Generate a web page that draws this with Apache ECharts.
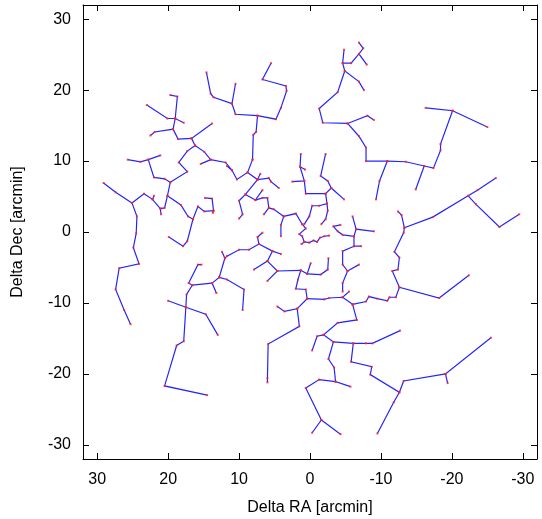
<!DOCTYPE html>
<html>
<head>
<meta charset="utf-8">
<script src="https://cdn.jsdelivr.net/npm/echarts@6/dist/echarts.min.js"></script>
<style>
  html, body { margin: 0; padding: 0; background: #fff; }
  #main { width: 542px; height: 519px; }
</style>
</head>
<body>
<div id="main"></div>
<script>
  // tick labels (arcmin)
  var xTicks = [30, 20, 10, 0, -10, -20, -30];
  var yTicks = [-30, -20, -10, 0, 10, 20, 30];

  // tree branches, each a polyline of [deltaRA, deltaDec] in arcmin
  var upperLeft = [
    [[14.6,22.5],[14.0,19.5],[13.6,19.0],[11.0,18.1]],
    [[10.5,20.9],[11.0,18.1],[10.5,16.6],[7.4,16.4],[4.8,15.9],[4.1,17.5],[3.3,19.9],[3.4,20.6],[6.7,21.5],[5.5,23.8]],
    [[7.4,16.4],[7.6,14.1],[8.0,13.7],[8.1,10.2]],
    [[19.7,19.3],[18.7,19.1],[19.0,16.0]],
    [[23.0,17.9],[20.1,16.0],[19.0,16.0],[17.8,15.4]],
    [[19.0,16.0],[19.3,14.5],[21.9,14.1],[22.5,13.6]],
    [[19.3,14.5],[18.6,13.1],[16.7,13.2],[13.8,15.3]],
    [[16.7,13.2],[16.2,12.2],[17.3,11.4],[18.5,9.8],[17.3,8.5],[19.7,7.0]],
    [[16.2,12.2],[14.9,11.3],[14.0,10.2],[15.4,9.6]],
    [[14.0,10.2],[11.9,9.8],[11.0,8.7],[10.3,7.4],[8.8,8.4],[8.1,10.2]],
    [[11.7,9.3],[11.0,8.7]]
  ];

  var left = [
    [[25.7,10.2],[23.9,9.9],[22.8,10.2],[21.1,10.8]],
    [[22.8,10.2],[22.0,7.7],[20.5,7.5],[19.7,7.0],[20.1,5.1],[20.5,3.4],[21.1,3.3],[21.0,2.5]],
    [[21.1,3.3],[22.2,4.6],[23.4,5.4],[25.1,4.1],[27.4,5.6],[29.1,6.9]],
    [[22.2,4.6],[22.0,5.1]],
    [[20.1,5.1],[18.2,3.8],[17.2,2.2],[16.5,1.8],[15.8,3.6],[14.9,2.9],[13.6,3.0],[13.7,2.7]],
    [[13.6,3.0],[13.8,4.7],[14.8,4.8]],
    [[16.5,1.8],[17.3,-1.3],[17.9,-2.0],[19.9,-0.7]],
    [[25.1,4.1],[24.4,2.2],[24.5,-0.2],[24.9,-2.2],[24.1,-4.5],[26.9,-5.1],[27.4,-8.1],[26.2,-11.0],[25.3,-13.0]]
  ];

  var lowerLeft = [
    [[12.4,-2.8],[12.0,-3.7],[12.8,-6.4],[13.8,-7.2],[13.2,-8.6]],
    [[13.8,-7.2],[16.6,-7.5],[17.1,-7.2],[15.8,-4.6],[15.3,-4.6]],
    [[16.6,-7.5],[17.4,-8.8],[17.5,-10.6],[17.8,-15.4],[18.8,-16.0],[20.5,-21.7],[14.5,-23.0]],
    [[17.5,-10.6],[14.7,-11.6],[13.0,-14.5]],
    [[20.0,-9.7],[17.5,-10.6]],
    [[12.8,-6.4],[11.7,-6.7],[9.3,-8.1],[9.5,-11.0]],
    [[12.0,-3.7],[11.7,-3.4],[10.0,-2.5],[8.6,-2.5],[7.2,-1.7],[7.4,-0.7],[6.7,-0.1]]
  ];

  var upperRight = [
    [[-6.9,26.7],[-7.5,25.9],[-6.9,25.1],[-8.0,23.6]],
    [[-6.9,25.1],[-5.8,23.8],[-4.6,23.8],[-4.8,25.7]],
    [[-4.6,23.8],[-4.9,22.7],[-6.9,21.2],[-7.6,20.0]],
    [[-4.9,22.7],[-3.9,19.7],[-1.3,17.4],[-1.8,15.4],[-5.3,15.3],[-8.1,16.4],[-9.0,15.8]],
    [[-5.3,15.3],[-6.9,13.5],[-7.9,11.9],[-7.9,10.0],[-10.9,10.0],[-13.5,9.9],[-16.1,9.3],[-17.4,9.0],[-18.4,11.5],[-18.4,12.4],[-20.1,17.1],[-16.3,17.5]],
    [[-20.1,17.1],[-25.0,14.8]],
    [[-16.1,9.3],[-14.9,6.0]],
    [[-10.9,10.0],[-9.8,7.2],[-9.3,4.6]]
  ];

  var right = [
    [[-26.2,7.6],[-23.6,5.9],[-22.3,5.1],[-17.3,2.1],[-13.3,0.6],[-12.9,2.4],[-12.4,2.9]],
    [[-22.3,5.1],[-23.4,3.9],[-26.7,0.7],[-29.5,2.5]],
    [[-13.3,0.6],[-13.2,-0.1],[-11.9,-2.8],[-12.6,-3.6],[-12.4,-5.3],[-11.6,-5.5],[-12.6,-7.8],[-18.2,-9.3],[-22.4,-6.1]],
    [[-12.6,-7.8],[-12.1,-9.2],[-11.2,-9.2],[-10.9,-9.7],[-9.5,-9.4],[-8.3,-9.1],[-7.9,-9.8],[-6.0,-10.2]]
  ];

  var lower = [
    [[4.6,-10.5],[3.6,-11.2],[1.8,-10.8],[1.5,-13.3],[5.9,-15.8],[6.0,-20.6],[6.0,-21.2]],
    [[-6.0,-10.2],[-6.6,-12.4],[-3.9,-12.8],[-1.9,-14.5],[-1.0,-14.7],[-0.3,-16.7]],
    [[-1.9,-14.5],[-3.3,-15.5],[-6.1,-15.7],[-7.9,-15.7],[-8.8,-15.7],[-12.7,-13.9]],
    [[-6.1,-15.7],[-5.8,-18.3],[-8.7,-19.0],[-8.5,-20.1],[-12.6,-22.6],[-13.2,-21.0],[-19.1,-20.0],[-25.5,-14.9]],
    [[-19.1,-20.0],[-19.4,-21.3]],
    [[-12.6,-22.6],[-11.8,-24.0],[-9.5,-28.4]],
    [[-3.3,-15.5],[-2.6,-17.9],[-3.4,-19.1],[-3.6,-21.1],[-5.7,-21.8]],
    [[-3.6,-21.1],[-1.3,-20.8],[0.6,-22.0],[-1.6,-26.5],[-0.3,-28.3]],
    [[-1.6,-26.5],[-4.3,-28.5]]
  ];

  var center = [
    [[8.8,8.4],[7.4,7.4],[5.8,7.6],[5.5,7.1],[4.4,6.2]],
    [[7.4,7.4],[7.0,8.2]],
    [[7.4,7.4],[9.1,5.3],[10.0,4.4],[9.5,2.5],[10.0,1.9]],
    [[9.1,5.3],[7.7,4.5],[6.7,5.9]],
    [[7.7,4.5],[6.7,4.8],[6.0,4.8],[5.8,3.4],[6.5,2.5]],
    [[5.8,3.4],[5.1,3.2],[3.7,2.2],[4.1,1.0],[4.1,-0.6]],
    [[3.7,2.2],[2.0,2.6],[1.1,1.1]],
    [[1.3,11.0],[1.4,9.2],[0.7,8.8]],
    [[1.4,9.2],[0.8,7.2],[2.5,7.1]],
    [[0.8,7.2],[0.6,5.4],[-2.2,5.4]],
    [[-2.2,11.0],[-1.5,7.9],[-2.5,7.2],[-3.0,6.2],[-4.8,4.6]],
    [[-3.0,6.2],[-2.2,5.4],[-2.4,4.0],[-1.3,3.7],[-0.3,3.7],[0.1,2.2],[0.8,1.1]],
    [[-2.4,4.0],[-2.5,3.0],[-2.2,1.8],[-1.6,1.1]],
    [[1.1,1.1],[0.6,0.5],[1.5,-0.3],[1.1,-0.6],[0.8,-1.4],[1.2,-1.7]],
    [[0.8,-1.4],[0.1,-1.5],[-0.5,-1.2],[-1.0,-1.4],[-1.4,-0.8],[-2.0,-0.6],[-2.7,-0.5]],
    [[-6.0,2.2],[-6.5,0.4],[-9.0,0.1]],
    [[-6.5,0.4],[-6.2,-0.6],[-4.6,-0.4],[-3.9,0.1],[-3.3,0.8],[-4.3,1.0]],
    [[-6.2,-0.6],[-6.2,-2.0],[-7.2,-2.0]],
    [[-6.2,-2.0],[-4.6,-2.7],[-4.6,-4.6],[-5.3,-5.5],[-6.9,-4.6]],
    [[-5.3,-5.5],[-4.6,-7.2],[-4.6,-8.4]],
    [[7.2,-1.7],[5.3,-2.7],[4.1,-3.1]],
    [[5.3,-2.7],[6.0,-4.1],[7.9,-5.3]],
    [[6.0,-4.1],[4.6,-5.5],[6.0,-6.9]],
    [[4.6,-5.5],[1.3,-5.4],[0.4,-5.9],[-0.1,-4.4]],
    [[0.4,-5.9],[-1.5,-6.0],[-2.5,-5.3],[-2.6,-3.7]],
    [[1.3,-5.4],[1.7,-6.7],[2.0,-8.0],[0.6,-8.1],[0.4,-9.4],[1.8,-10.8]],
    [[0.4,-9.4],[-2.0,-9.5],[-2.7,-9.3],[-4.6,-9.2],[-6.0,-10.2]],
    [[-4.6,-9.2],[-5.5,-8.4]]
  ];

  var branches = [].concat(upperLeft, left, lowerLeft, upperRight, right, lower, center);

  var nodes = [];
  branches.forEach(function (b) {
    b.forEach(function (p) { nodes.push(p); });
  });

  var font = 'Liberation Sans, Arial, sans-serif';

  function axis(pos, ticks, extra) {
    var a = {
      type: 'value',
      position: pos,
      min: -32,
      max: 32,
      splitLine: { show: false },
      axisLine: { show: true, onZero: false, lineStyle: { color: '#000', width: 1 } },
      axisTick: { inside: true, length: 6, customValues: ticks, lineStyle: { color: '#000' } },
      axisLabel: { show: false }
    };
    return Object.assign(a, extra || {});
  }

  var myChart = echarts.init(document.getElementById('main'), null, { renderer: 'canvas' });
  myChart.setOption({
    animation: false,
    grid: { left: 83, top: 5, right: 5, bottom: 60, outerBoundsMode: 'none', containLabel: false },
    xAxis: [
      axis('bottom', xTicks, {
        inverse: true,
        name: 'Delta RA [arcmin]',
        nameLocation: 'middle',
        nameGap: 41,
        nameTextStyle: { fontFamily: font, fontSize: 16, color: '#000' },
        axisLabel: { show: true, customValues: xTicks, margin: 13, fontFamily: font, fontSize: 16, color: '#000' }
      }),
      axis('top', xTicks, { inverse: true })
    ],
    yAxis: [
      axis('left', yTicks, {
        name: 'Delta Dec [arcmin]',
        nameLocation: 'middle',
        nameGap: 57,
        nameTextStyle: { fontFamily: font, fontSize: 16, color: '#000' },
        axisLabel: { show: true, customValues: yTicks, margin: 12, fontFamily: font, fontSize: 16, color: '#000' }
      }),
      axis('right', yTicks)
    ],
    series: [
      {
        type: 'lines',
        coordinateSystem: 'cartesian2d',
        polyline: true,
        silent: true,
        lineStyle: { color: '#2424ff', width: 1.2, opacity: 1 },
        data: branches.map(function (b) { return { coords: b }; })
      },
      {
        type: 'scatter',
        symbol: 'rect',
        symbolSize: 2,
        silent: true,
        itemStyle: { color: '#ff2020' },
        data: nodes
      }
    ]
  });
</script>
</body>
</html>
